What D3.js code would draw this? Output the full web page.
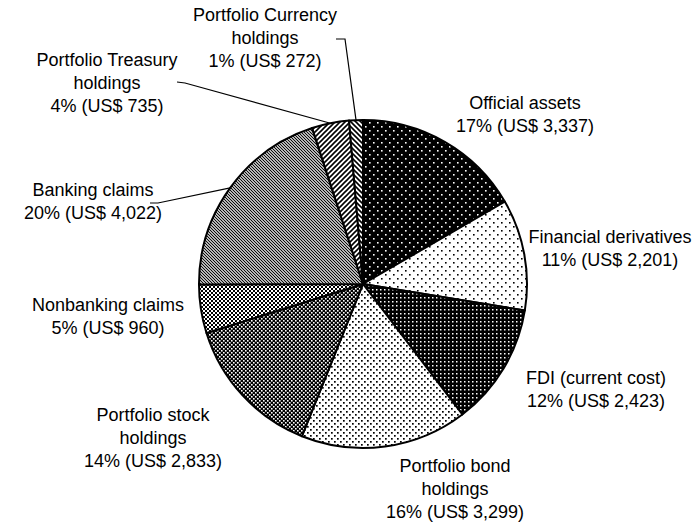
<!DOCTYPE html>
<html>
<head>
<meta charset="utf-8">
<script src="https://cdn.jsdelivr.net/npm/d3@7"></script>
<style>
  body { margin: 0; background: #fff; }
  text { font-family: "Liberation Sans", Arial, sans-serif; font-size: 18px; fill: #000; }
</style>
</head>
<body>
<script>
// data, clockwise from 12 o'clock
var categories = ["Official assets", "Financial derivatives", "FDI (current cost)",
  "Portfolio bond holdings", "Portfolio stock holdings", "Nonbanking claims",
  "Banking claims", "Portfolio Treasury holdings", "Portfolio Currency holdings"];
var values = [3337, 2201, 2423, 3299, 2833, 960, 4022, 735, 272];
var percents = [17, 11, 12, 16, 14, 5, 20, 4, 1];
var nameLines = [["Official assets"], ["Financial derivatives"], ["FDI (current cost)"],
  ["Portfolio bond", "holdings"], ["Portfolio stock", "holdings"], ["Nonbanking claims"],
  ["Banking claims"], ["Portfolio Treasury", "holdings"], ["Portfolio Currency", "holdings"]];

// layout: label centres (first line) and leader starts
var labelPos = [[525, 103], [610, 237], [596, 378], [455, 466], [153, 415],
  [108, 305], [93, 190], [107, 60], [265, 15]];
var leaders = {6: [[150, 203], [158, 203]], 7: [[177, 82], [185, 83]], 8: [[336, 39], [345, 39]]};

var width = 696, height = 526,
    cx = 363, cy = 284, radius = 164;

var svg = d3.select("body").append("svg")
    .attr("width", width)
    .attr("height", height);

var defs = svg.append("defs");

// dot patterns
function dots(id, size, bg, fg, pts, r) {
  var p = defs.append("pattern").attr("id", id)
      .attr("patternUnits", "userSpaceOnUse")
      .attr("width", size).attr("height", size);
  p.append("rect").attr("width", size).attr("height", size).attr("fill", bg);
  pts.forEach(function(d) {
    p.append("rect").attr("x", d[0]).attr("y", d[1])
      .attr("width", r).attr("height", r).attr("fill", fg);
  });
}
// hatch patterns
function hatch(id, size, dir, sw) {
  var p = defs.append("pattern").attr("id", id)
      .attr("patternUnits", "userSpaceOnUse")
      .attr("width", size).attr("height", size);
  p.append("rect").attr("width", size).attr("height", size).attr("fill", "#fff");
  var d = dir > 0
    ? "M0," + size + " L" + size + ",0 M-1,1 L1,-1 M" + (size - 1) + "," + (size + 1) + " L" + (size + 1) + "," + (size - 1)
    : "M0,0 L" + size + "," + size + " M-1," + (size - 1) + " L1," + (size + 1) + " M" + (size - 1) + ",-1 L" + (size + 1) + ",1";
  p.append("path").attr("d", d).attr("stroke", "#000").attr("stroke-width", sw);
}

dots("p0", 8, "#000", "#fff", [[2, 2], [6, 6]], 1.6);
dots("p1", 8, "#fff", "#000", [[2, 2], [6, 6]], 1.6);
dots("p2", 4, "#000", "#fff", [[1, 1]], 1.5);
dots("p3", 6, "#fff", "#000", [[1, 1], [4, 4]], 1.7);
dots("p4", 4, "#000", "#fff", [[0, 0], [2, 2]], 1.6);
dots("p5", 4, "#fff", "#000", [[0, 0], [2, 2]], 2);
hatch("p6", 3, -1, 1.1);
hatch("p7", 5, 1, 1.6);
hatch("p8", 5, -1, 1.6);

var pie = d3.pie().sort(null).value(function(d) { return d; });
var arc = d3.arc().innerRadius(0).outerRadius(radius);
var arcs = pie(values);

var g = svg.append("g").attr("transform", "translate(" + cx + "," + cy + ")");

g.selectAll("path.slice")
    .data(arcs)
  .enter().append("path")
    .attr("class", "slice")
    .attr("d", arc)
    .attr("fill", function(d, i) { return "url(#p" + i + ")"; })
    .attr("stroke", "#000")
    .attr("stroke-width", 2)
    .attr("stroke-linejoin", "round");

// leader lines
var fmt = d3.format(",");
Object.keys(leaders).forEach(function(k) {
  var a = arcs[k], mid = (a.startAngle + a.endAngle) / 2;
  var end = [cx + radius * Math.sin(mid), cy - radius * Math.cos(mid)];
  var pts = leaders[k].concat([end]);
  svg.append("path")
    .attr("d", d3.line()(pts))
    .attr("fill", "none")
    .attr("stroke", "#000")
    .attr("stroke-width", 1.2);
});

// labels
categories.forEach(function(c, i) {
  var lines = nameLines[i].concat([percents[i] + "% (US$ " + fmt(values[i]) + ")"]);
  var t = svg.append("text")
    .attr("text-anchor", "middle")
    .attr("x", labelPos[i][0])
    .attr("y", labelPos[i][1]);
  lines.forEach(function(l, j) {
    t.append("tspan")
      .attr("x", labelPos[i][0])
      .attr("y", labelPos[i][1] + j * 23)
      .attr("dy", "0.35em")
      .text(l);
  });
});
</script>
</body>
</html>
